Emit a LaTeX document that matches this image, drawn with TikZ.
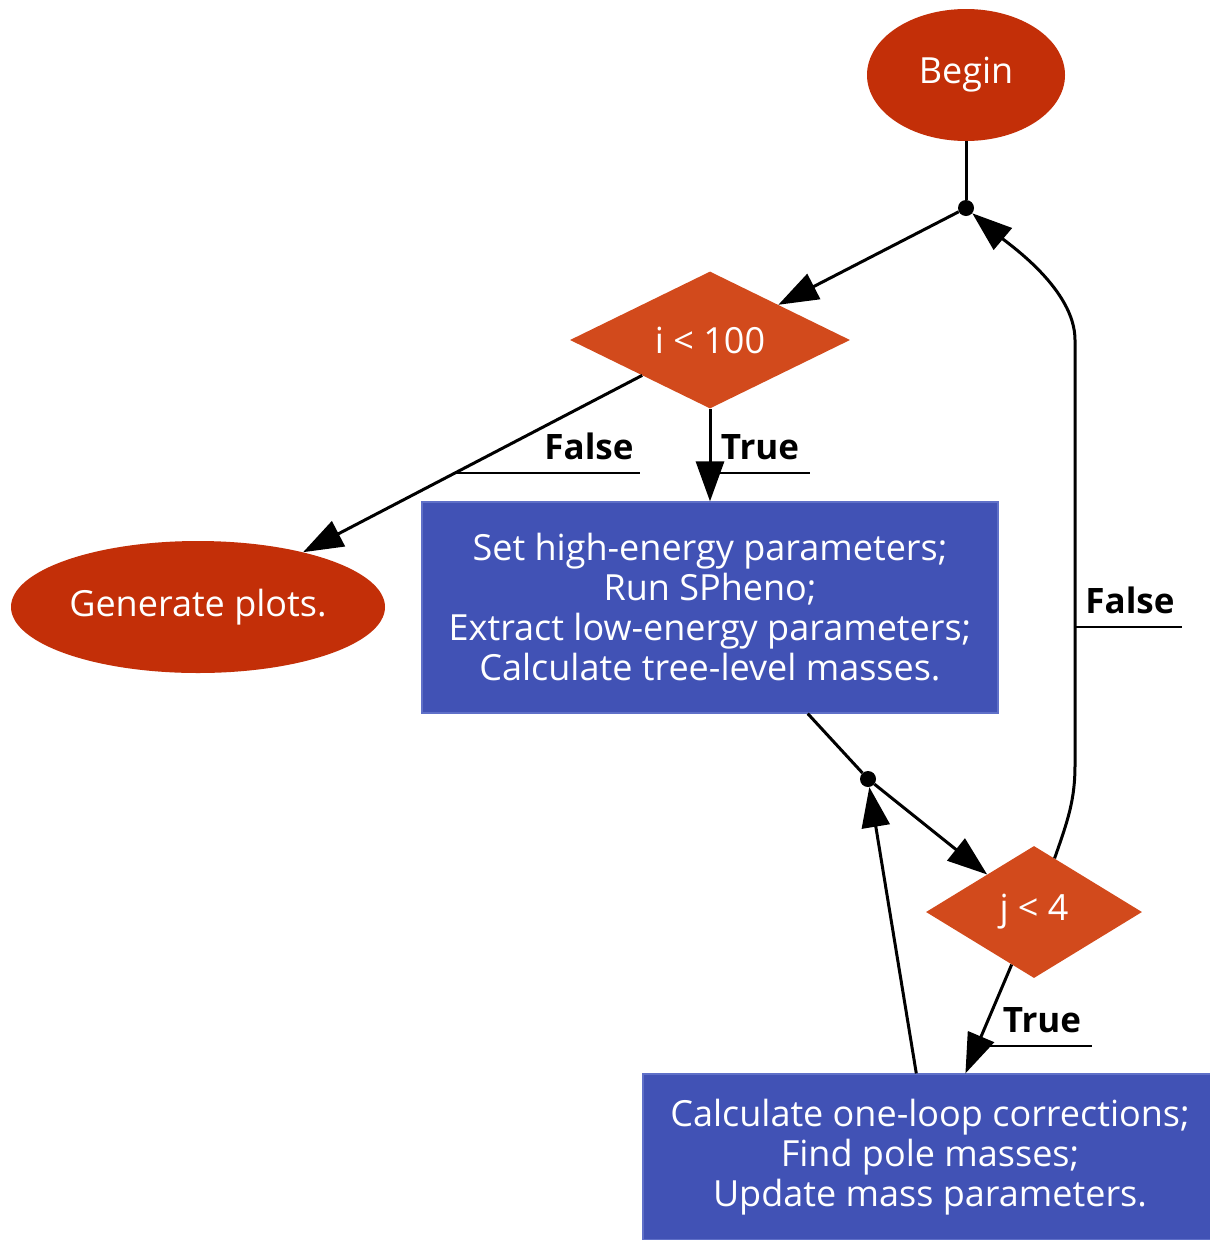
\documentclass[tikz,border=0pt]{standalone}
\usepackage{fontspec}
\setmainfont{Open Sans}
\usetikzlibrary{shapes.geometric,arrows.meta,calc}
\definecolor{termred}{RGB}{195,47,8}
\definecolor{decorange}{RGB}{210,74,28}
\definecolor{procblue}{RGB}{65,82,181}
\definecolor{procedge}{RGB}{95,112,200}
\tikzset{
  term/.style={ellipse, fill=termred, text=white, inner sep=0pt, font=\fontsize{36}{40}\selectfont},
  decision/.style={diamond, fill=decorange, text=white, inner sep=0pt, font=\fontsize{36}{40}\selectfont},
  process/.style={rectangle, fill=procblue, draw=procedge, line width=1.2pt, text=white, inner sep=0pt, align=center, font=\fontsize{36}{40}\selectfont},
  junction/.style={circle, fill=black, inner sep=0pt, minimum size=16pt},
  conn/.style={line width=3pt, black},
  arr/.style={conn, -{Triangle[length=40pt,width=28pt]}},
  elabel/.style={anchor=base, font=\fontsize{35}{40}\selectfont\bfseries},
  uline/.style={line width=2.6pt, black}
}
\begin{document}
\begin{tikzpicture}[x=1pt,y=-1pt]
\clip (0,0) rectangle (1210,1240);
\fill[white] (0,0) rectangle (1210,1240);

\node[term, minimum width=198pt, minimum height=132pt] (begin) at (966,75) {Begin};
\node[junction] (d1) at (966,208) {};
\node[decision, minimum width=280pt, minimum height=132pt] (i100) at (710,340) {i < 100};
\node[term, minimum width=374pt, minimum height=132pt] (gen) at (198,607) {Generate plots.};
\node[process, minimum width=576pt, minimum height=211pt] (setp) at (710,607.5) {Set high-energy parameters;\\Run SPheno;\\Extract low-energy parameters;\\Calculate tree-level masses.};
\node[junction] (d2) at (868,779) {};
\node[decision, minimum width=216pt, minimum height=132pt] (j4) at (1034,912) {j < 4};
\node[process, minimum width=574pt, minimum height=166pt] (calc) at (930,1157) {Calculate one-loop corrections;\\Find pole masses;\\Update mass parameters.};

% connectors
\draw[conn] (begin) -- (d1);
\draw[arr] (d1) -- (i100);
\draw[arr] (i100) -- (gen);
\draw[arr] (i100) -- (setp);
\draw[conn] (setp) -- (d2);
\draw[arr] (d2) -- (j4);
\draw[arr] (j4) -- (calc);
\draw[arr] (calc) -- (d2);
\coordinate (jstart) at ($(j4.north)!0.19!(j4.east)$);
\draw[arr] (jstart) .. controls (1068,820) and (1075,800) .. (1075,765)
  -- (1075,340) .. controls (1075,290) and (1010,245) .. (d1);

% labels
\node[elabel] (lf1) at (589,459) {False};
\draw[uline] (455,473) -- (640,473);
\node[elabel] (lt1) at (760,459) {True};
\draw[uline] (710,473) -- (810,473);
\node[elabel] (lt2) at (1042,1032) {True};
\draw[uline] (980,1046) -- (1092,1046);
\node[elabel] (lf2) at (1130,613) {False};
\draw[uline] (1075,627) -- (1182,627);
\end{tikzpicture}
\end{document}
